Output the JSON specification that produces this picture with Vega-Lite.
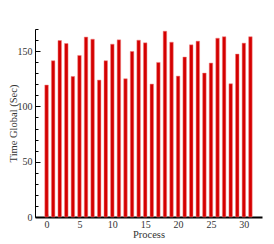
{
  "$schema": "https://vega.github.io/schema/vega-lite/v6.json",
  "width": 227,
  "height": 188,
  "autosize": {"type": "none"},
  "padding": {"left": 35, "top": 29, "right": 12, "bottom": 27},
  "background": "white",
  "config": {"view": {"stroke": null}, "font": "Liberation Serif"},
  "data": {"values": [
    {"process": 0, "time": 119.3},
    {"process": 1, "time": 141.3},
    {"process": 2, "time": 159.6},
    {"process": 3, "time": 156.9},
    {"process": 4, "time": 127.1},
    {"process": 5, "time": 146.1},
    {"process": 6, "time": 162.7},
    {"process": 7, "time": 160.8},
    {"process": 8, "time": 123.8},
    {"process": 9, "time": 141.3},
    {"process": 10, "time": 156.3},
    {"process": 11, "time": 160.2},
    {"process": 12, "time": 125.0},
    {"process": 13, "time": 149.7},
    {"process": 14, "time": 159.9},
    {"process": 15, "time": 157.5},
    {"process": 16, "time": 120.2},
    {"process": 17, "time": 139.8},
    {"process": 18, "time": 168.0},
    {"process": 19, "time": 158.1},
    {"process": 20, "time": 127.4},
    {"process": 21, "time": 144.6},
    {"process": 22, "time": 155.7},
    {"process": 23, "time": 159.0},
    {"process": 24, "time": 130.1},
    {"process": 25, "time": 139.2},
    {"process": 26, "time": 161.7},
    {"process": 27, "time": 163.0},
    {"process": 28, "time": 120.5},
    {"process": 29, "time": 147.3},
    {"process": 30, "time": 157.2},
    {"process": 31, "time": 163.0}
  ]},
  "mark": {"type": "bar", "color": "#d40000", "width": 3.5, "stroke": "#f08080", "strokeWidth": 0.5},
  "encoding": {
    "x": {
      "field": "process", "type": "quantitative",
      "scale": {"domain": [-1, 32], "nice": false, "zero": false},
      "axis": {
        "title": "Process", "values": [0, 5, 10, 15, 20, 25, 30],
        "grid": false, "domainColor": "black", "domainWidth": 2,
        "tickColor": "black", "tickSize": -3, "tickWidth": 1.5,
        "labelFont": "Liberation Serif", "labelFontSize": 10, "labelColor": "#333",
        "labelPadding": 5,
        "titleFont": "Liberation Serif", "titleFontSize": 10.5, "titleFontWeight": "normal",
        "titleColor": "#333", "titlePadding": 0
      }
    },
    "y": {
      "field": "time", "type": "quantitative",
      "scale": {"domain": [0, 170], "nice": false},
      "axis": {
        "title": "Time Global (Sec)",
        "values": [0, 10, 20, 30, 40, 50, 60, 70, 80, 90, 100, 110, 120, 130, 140, 150, 160, 170],
        "labelExpr": "datum.value % 50 === 0 ? datum.label : ''",
        "grid": false, "domainColor": "black", "domainWidth": 1,
        "tickColor": "black",
        "tickSize": {"condition": {"test": "datum.value % 50 === 0", "value": -5}, "value": -3},
        "tickWidth": 1,
        "labelFont": "Liberation Serif", "labelFontSize": 10, "labelColor": "#333",
        "labelPadding": 8,
        "titleFont": "Liberation Serif", "titleFontSize": 10.5, "titleFontWeight": "normal",
        "titleColor": "#333", "titlePadding": -1
      }
    }
  }
}
